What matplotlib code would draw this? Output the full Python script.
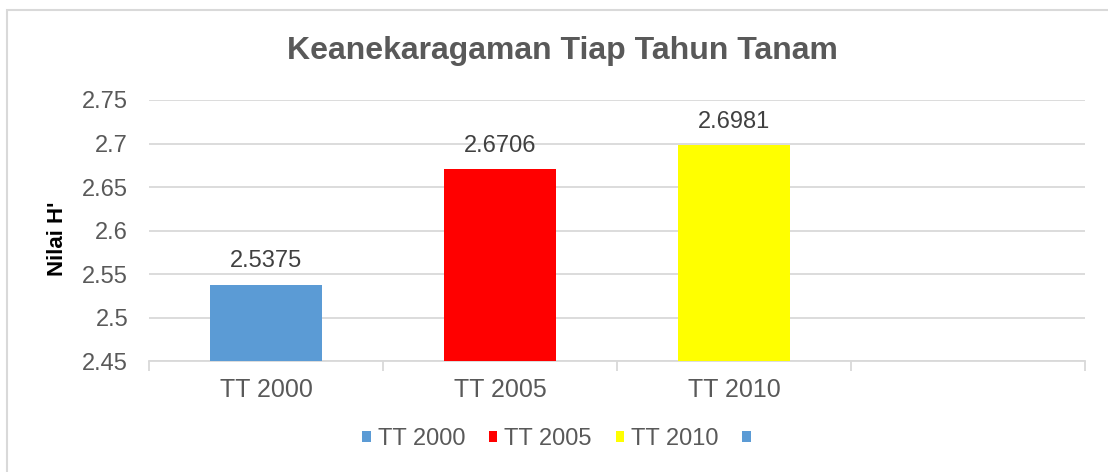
import matplotlib.pyplot as plt
from matplotlib.patches import Patch, Rectangle

plt.rcParams['font.family'] = ['Liberation Sans', 'DejaVu Sans']

categories = ['TT 2000', 'TT 2005', 'TT 2010', '']
values = [2.5375, 2.6706, 2.6981]
labels = ['2.5375', '2.6706', '2.6981']
colors = ['#5B9BD5', '#FF0000', '#FFFF00']
legend_labels = ['TT 2000', 'TT 2005', 'TT 2010', '']
legend_colors = ['#5B9BD5', '#FF0000', '#FFFF00', '#5B9BD5']
yticks = [2.45, 2.5, 2.55, 2.6, 2.65, 2.7, 2.75]
ytick_labels = ['2.45', '2.5', '2.55', '2.6', '2.65', '2.7', '2.75']

txt = '#595959'
grid = '#D9D9D9'

fig = plt.figure(figsize=(11.08, 4.72), dpi=100)
ax = fig.add_axes([149/1108, 1 - 361/472, (1085-149)/1108, (361-100)/472])

# chart border (only top and left visible in reference)
fig.patches.append(Rectangle((7/1108, -0.05), 1.1, 1 - 10/472 + 0.05,
                             transform=fig.transFigure, fill=False,
                             edgecolor='#D9D9D9', linewidth=1.5))

x = list(range(len(values)))
ax.bar(x, [v - 2.45 for v in values], bottom=2.45, width=0.48, color=colors, zorder=3)
for xi, v, lab in zip(x, values, labels):
    ax.annotate(lab, (xi, v), xytext=(0, 9), textcoords='offset points',
                ha='center', va='bottom', fontsize=17, color='#404040')

ax.set_xlim(-0.5, len(categories) - 0.5)
ax.set_ylim(2.45, 2.75)
ax.set_yticks(yticks)
ax.set_yticklabels(ytick_labels, fontsize=17, color=txt)
ax.yaxis.grid(True, color=grid, linewidth=1.3, zorder=0)
ax.tick_params(axis='y', length=0, pad=15)

ax.set_xticks(range(len(categories)))
ax.set_xticklabels(categories, fontsize=18, color=txt)
ax.tick_params(axis='x', length=0, pad=12)
ax.set_xticks([i - 0.5 for i in range(len(categories) + 1)], minor=True)
ax.tick_params(axis='x', which='minor', length=7, color=grid, width=1.3)

for s in ['top', 'right', 'left']:
    ax.spines[s].set_visible(False)
ax.spines['bottom'].set_color(grid)
ax.spines['bottom'].set_linewidth(1.3)

ax.set_ylabel("Nilai H'", fontsize=16, fontweight='bold', color='black')
ax.yaxis.set_label_coords(-0.0865, 0.47)

fig.text(562/1108, 1 - 51/472, 'Keanekaragaman Tiap Tahun Tanam', ha='center', va='center',
         fontsize=23, fontweight='bold', color=txt)

handles = [Patch(facecolor=c, edgecolor='none') for c in legend_colors]
fig.legend(handles, legend_labels, loc='center', bbox_to_anchor=(560/1108, 1 - 439/472),
           ncol=4, frameon=False, fontsize=17, handlelength=0.36, handleheight=0.36,
           handletextpad=0.3, columnspacing=1.0, labelcolor=txt)

fig.savefig('out.png', dpi=100)
